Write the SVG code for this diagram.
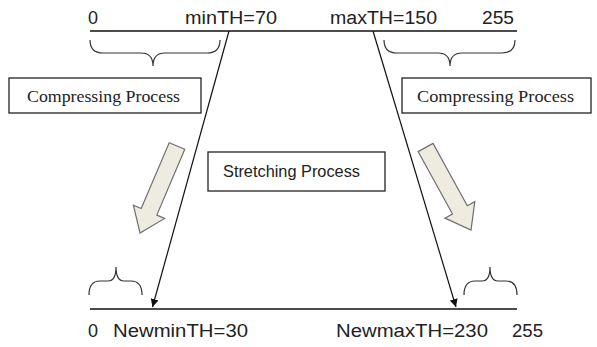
<svg xmlns="http://www.w3.org/2000/svg" width="597" height="347" viewBox="0 0 597 347">
<defs>
<marker id="ah" viewBox="0 0 10 10" refX="10" refY="5" markerWidth="8" markerHeight="8" markerUnits="userSpaceOnUse" orient="auto">
<path d="M0,0 L10,5 L0,10 z" fill="#111"/>
</marker>
<style>
.axis{stroke:#111;stroke-width:1.6;fill:none}
.brace{stroke:#333;stroke-width:1.2;fill:none}
.lbl{font-family:"Liberation Sans",Arial,sans-serif;font-size:18px;fill:#222}
.serif{font-family:"Liberation Serif","Times New Roman",serif;font-size:17.5px;fill:#222}
.box{fill:#fff;stroke:#222;stroke-width:1.3}
.fat{fill:#EEECE1;stroke:#6f6f6f;stroke-width:1.2;stroke-linejoin:miter}
.conn{stroke:#111;stroke-width:1.2;fill:none}
</style>
</defs>
<rect width="597" height="347" fill="#fff"/>
<g id="top-axis">
<line class="axis" x1="90" y1="31" x2="517" y2="31"/>
<text class="lbl" x="88" y="24">0</text>
<text class="lbl" x="185" y="24" textLength="92" lengthAdjust="spacingAndGlyphs">minTH=70</text>
<text class="lbl" x="330" y="24" textLength="107" lengthAdjust="spacingAndGlyphs">maxTH=150</text>
<text class="lbl" x="482" y="24" textLength="32" lengthAdjust="spacingAndGlyphs">255</text>
</g>
<g id="top-left-brace">
<path class="brace" d="M90,40 Q90,53 103,53 L141,53 Q153,53 153,66 Q153,53 165,53 L207,53 Q220,53 220,40"/>
</g>
<g id="top-right-brace">
<path class="brace" d="M384,40 Q384,53 397,53 L438,53 Q450,53 450,66 Q450,53 462,53 L502,53 Q515,53 515,40"/>
</g>
<g id="compress-left">
<rect class="box" x="9" y="78" width="192" height="35"/>
<text class="serif" x="27" y="102" textLength="153" lengthAdjust="spacingAndGlyphs">Compressing Process</text>
</g>
<g id="compress-right">
<rect class="box" x="402" y="78" width="189" height="35"/>
<text class="serif" x="417" y="102" textLength="157" lengthAdjust="spacingAndGlyphs">Compressing Process</text>
</g>
<g id="stretch">
<rect class="box" x="208" y="152" width="177" height="39"/>
<text class="lbl" x="223" y="177" textLength="137" lengthAdjust="spacingAndGlyphs" style="font-size:17px">Stretching Process</text>
</g>
<g id="fat-arrow-left">
<polygon class="fat" points="169.2,142.7 184.8,149.3 156.8,215.1 164.6,218.4 140,233 133.4,205.2 141.2,208.5"/>
</g>
<g id="fat-arrow-right">
<polygon class="fat" points="418.1,151.6 433,143.4 467.3,205.8 474.8,201.7 471,230 445,218.1 452.5,214"/>
</g>
<g id="connectors">
<line class="conn" x1="229" y1="31" x2="152.5" y2="307" marker-end="url(#ah)"/>
<line class="conn" x1="373" y1="31" x2="456" y2="307" marker-end="url(#ah)"/>
</g>
<g id="bottom-left-brace">
<path class="brace" d="M89,295 Q89,281 100,281 L108,281 Q116,281 116,267 Q116,281 124,281 L131,281 Q142,281 142,295"/>
</g>
<g id="bottom-right-brace">
<path class="brace" d="M464,295 Q464,281 475,281 L482,281 Q490,281 490,267 Q490,281 498,281 L506,281 Q517,281 517,295"/>
</g>
<g id="bottom-axis">
<line class="axis" x1="90" y1="309" x2="517" y2="309"/>
<text class="lbl" x="88" y="337">0</text>
<text class="lbl" x="113" y="337" textLength="135" lengthAdjust="spacingAndGlyphs">NewminTH=30</text>
<text class="lbl" x="336" y="337" textLength="152" lengthAdjust="spacingAndGlyphs">NewmaxTH=230</text>
<text class="lbl" x="512" y="337" textLength="31" lengthAdjust="spacingAndGlyphs">255</text>
</g>
</svg>
